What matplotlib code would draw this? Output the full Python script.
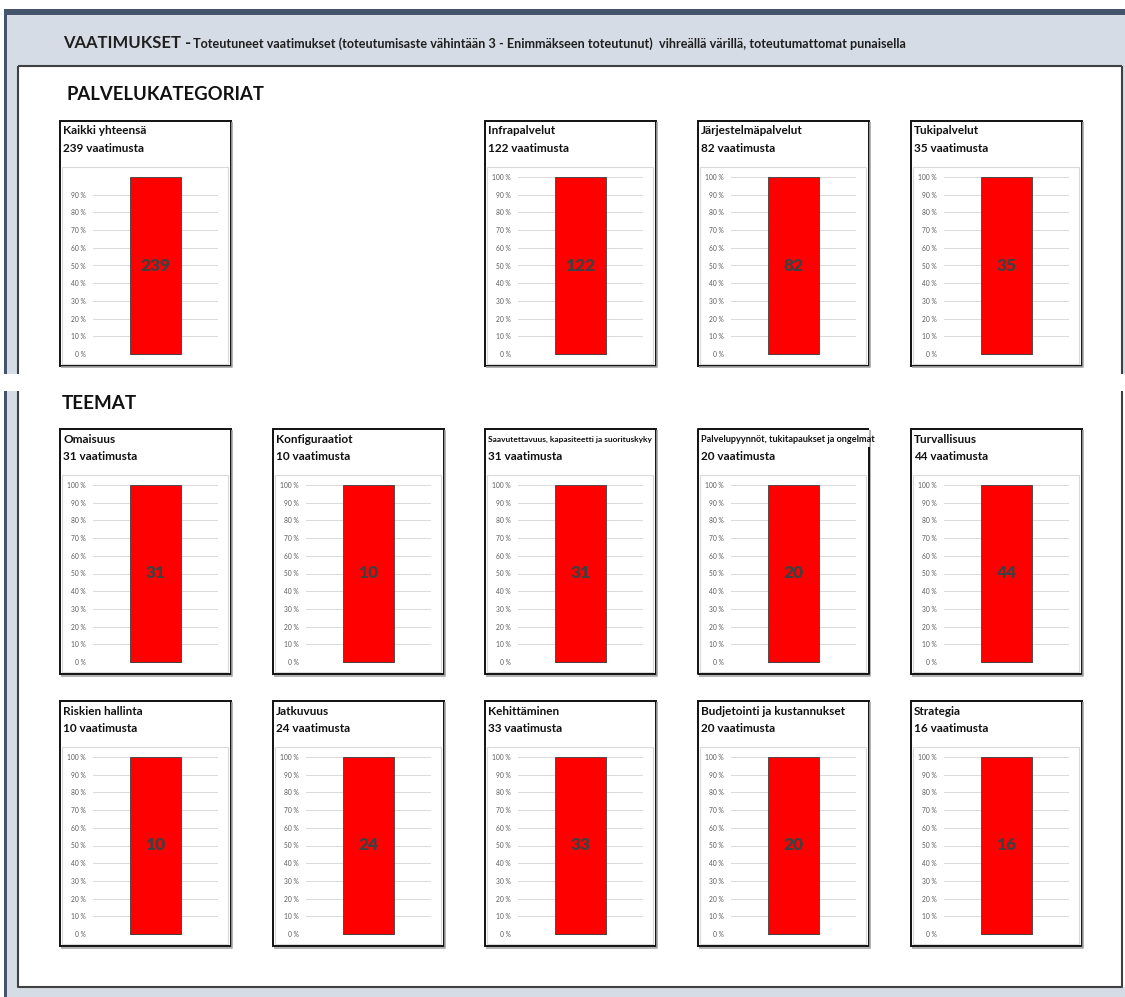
import matplotlib
matplotlib.use("Agg")
import matplotlib.pyplot as plt
from matplotlib.patches import Rectangle
from matplotlib.transforms import blended_transform_factory, IdentityTransform

plt.rcParams['font.family'] = ['Lato', 'DejaVu Sans']

W, H = 1125, 997

# ---- data -------------------------------------------------------------
header_main = "VAATIMUKSET - "
header_sub = ("Toteutuneet vaatimukset (toteutumisaste vähintään 3 - Enimmäkseen "
              "toteutunut)  vihreällä värillä, toteutumattomat punaisella")

section_titles = ["PALVELUKATEGORIAT", "TEEMAT"]

category_names = ["Kaikki yhteensä", "Infrapalvelut", "Järjestelmäpalvelut", "Tukipalvelut"]
category_met = [0, 0, 0, 0]
category_unmet = [239, 122, 82, 35]

theme_names = ["Omaisuus", "Konfiguraatiot",
               "Saavutettavuus, kapasiteetti ja suorituskyky",
               "Palvelupyynnöt, tukitapaukset ja ongelmat", "Turvallisuus",
               "Riskien hallinta", "Jatkuvuus", "Kehittäminen",
               "Budjetointi ja kustannukset", "Strategia"]
theme_met = [0] * 10
theme_unmet = [31, 10, 31, 20, 44, 10, 24, 33, 20, 16]

y_ticks = list(range(0, 101, 10))
y_tick_labels = [f"{v} %" for v in y_ticks]

# ---- layout (pixels) --------------------------------------------------
col_left = [60, 273, 485, 698, 911]
row_top = [121, 429, 701]
card_w, card_h = 171, 245

GREEN = "#00b050"
RED = "#ff0000"
DARK = "#404040"
FRAME = "#404040"
PANEL_BG = "#d6dce5"
TOP_BAR = "#44546a"

fig = plt.figure(figsize=(W / 100, H / 100), dpi=100)
fig.patch.set_facecolor("white")

bg = fig.add_axes([0, 0, 1, 1])
bg.set_xlim(0, W)
bg.set_ylim(H, 0)
bg.axis("off")


def rect(x0, y0, x1, y1, **kw):
    bg.add_patch(Rectangle((x0, y0), x1 - x0, y1 - y0, **kw))


def line(xs, ys, **kw):
    bg.plot(xs, ys, solid_capstyle="butt", **kw)


# page background: dashboard frame (upper part) and its lower continuation
rect(4, 9, W, 15, facecolor=TOP_BAR, edgecolor="none")
rect(4, 15, 7, 374, facecolor=TOP_BAR, edgecolor="none")
rect(7, 15, W, 374, facecolor=PANEL_BG, edgecolor="none")
rect(4, 391, 7, H, facecolor=TOP_BAR, edgecolor="none")
rect(7, 391, 18, H, facecolor=PANEL_BG, edgecolor="none")
rect(7, 987, W, H, facecolor=PANEL_BG, edgecolor="none")
rect(18, 66, 1122, 374, facecolor="white", edgecolor="none")
rect(18, 391, 1122, 987, facecolor="white", edgecolor="none")
line([18, 18], [374, 66], color=FRAME, lw=1.5)
line([18, 1122], [66, 66], color=FRAME, lw=1.5)
line([1122, 1122], [66, 374], color=FRAME, lw=1.5)
line([18, 18, 1122, 1122], [391, 987, 987, 391], color=FRAME, lw=1.5)

# header line
t = bg.text(63, 43, header_main, fontsize=12, fontweight="bold",
            color="#1f1f1f", va="center", ha="left")
fig.canvas.draw()
x_sub = t.get_window_extent().x1
bg.text(x_sub - 2, 44, header_sub, fontsize=9.1, fontweight="bold",
        color="#1f1f1f", va="center", ha="left",
        transform=blended_transform_factory(IdentityTransform(), bg.transData))

bg.text(67, 95, section_titles[0], fontsize=13.3, fontweight="bold",
        color="#111111", va="center", ha="left")
bg.text(62, 403, section_titles[1], fontsize=13.6, fontweight="bold",
        color="#111111", va="center", ha="left")


def card(x0, y0, name, met, unmet, title_size=8.5, overflow=False,
         show_top=True):
    x1, y1 = x0 + card_w, y0 + card_h
    # inner chart area
    rect(x0 + 2, y0 + 46, x1 - 3, y1 - 2, facecolor="white",
         edgecolor="#d9d9d9", lw=0.8)
    # card frame with a soft shadow
    line([x0 + 1, x1 + 1, x1 + 1], [y1 + 1.5, y1 + 1.5, y0 + 1], color="#a6a6a6", lw=1.2)
    if overflow:
        rect(x1 - 1, y0, x1 + 3, y0 + 18, facecolor="white", edgecolor="none")
        line([x1, x0, x0, x1, x1], [y0, y0, y1, y1, y0 + 18], color="#111111", lw=1.4)
    else:
        rect(x0, y0, x1, y1, facecolor="none", edgecolor="#111111", lw=1.4)

    tt = bg.text(x0 + 3, y0 + 10, name, fontsize=title_size, fontweight="bold",
                 color="#111111", va="center", ha="left")
    if overflow:
        tt.set_clip_path(Rectangle((x0, y0), card_w + 1, 20, transform=bg.transData))
    bg.text(x0 + 3, y0 + 27, f"{met + unmet} vaatimusta", fontsize=8.5,
            fontweight="bold", color="#111111", va="center", ha="left")

    ax = fig.add_axes([(x0 + 33) / W, 1 - (y0 + 233) / H, 125 / W, 177 / H])
    total = met + unmet
    met_pct = 100.0 * met / total
    unmet_pct = 100.0 * unmet / total
    ax.bar([0], [met_pct], width=0.41, color=GREEN, edgecolor=DARK, lw=0.6, zorder=3)
    ax.bar([0], [unmet_pct], bottom=[met_pct], width=0.41, color=RED,
           edgecolor=DARK, lw=0.6, zorder=3)
    ax.text(0, met_pct + unmet_pct / 2, str(unmet), ha="center", va="center",
            fontsize=12.5, fontweight="heavy", color=DARK, zorder=4)
    ax.set_xlim(-0.5, 0.5)
    ax.set_ylim(0, 100)
    ticks = y_ticks if show_top else y_ticks[:-1]
    labels = y_tick_labels if show_top else y_tick_labels[:-1]
    ax.set_yticks(ticks)
    ax.set_yticklabels(labels, fontsize=4.8, color="#595959")
    ax.set_xticks([])
    ax.tick_params(axis="y", length=0, pad=5)
    for v in ticks:
        ax.axhline(v, color="#d9d9d9", lw=0.7, zorder=1)
    for s in ax.spines.values():
        s.set_visible(False)
    ax.patch.set_alpha(0)
    for p in ax.patches:
        p.set_clip_on(False)


# service categories: overall total first, then one slot left empty
cat_cols = [0, 2, 3, 4]
for i, col in enumerate(cat_cols):
    card(col_left[col], row_top[0], category_names[i], category_met[i],
         category_unmet[i], show_top=(i != 0))

# long theme names use a smaller title font; one of them runs past its card
theme_title_sizes = {2: 6.0, 3: 6.6}
overflow_themes = [3]
for i, name in enumerate(theme_names):
    r, c = divmod(i, 5)
    card(col_left[c], row_top[1 + r], name, theme_met[i], theme_unmet[i],
         title_size=theme_title_sizes.get(i, 8.5), overflow=i in overflow_themes)

fig.savefig("out.png", dpi=100, facecolor="white")
